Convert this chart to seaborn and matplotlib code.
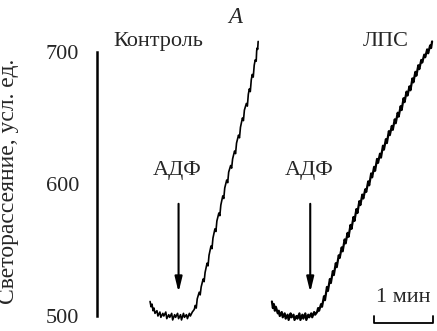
import numpy as np
import matplotlib
matplotlib.use('Agg')
import matplotlib.pyplot as plt
import pandas as pd
import seaborn as sns

# time in seconds, light scattering in arbitrary units
ctrl_t = [54, 55, 56, 57, 58, 59, 61, 62, 64, 65, 67, 68, 70, 71, 73, 74, 76, 77, 79, 80,
          82, 83, 85, 86, 88, 89, 91, 92, 94, 95, 97,
          99, 100, 101, 102, 104, 105, 106, 108, 109, 110, 112, 113, 114, 116, 117, 118, 120, 121,
          122, 124, 125, 126, 128, 129, 130, 132, 133, 134, 136, 137, 138, 140, 141, 142, 144, 145,
          146, 148, 149, 150, 152, 153, 154, 155, 156, 157, 158, 159, 160, 161, 162, 162.5, 163,
          163.5, 164]
ctrl_v = [511, 507, 509, 504, 506, 502, 504, 500, 503, 499, 502, 500, 503, 498, 501, 499, 502, 497, 501, 499,
          502, 498, 501, 497, 502, 499, 501, 498, 502, 500, 503,
          505, 508, 506, 513, 518, 516, 522, 528, 526, 533, 540, 538, 546, 553, 551, 559, 566, 564,
          572, 578, 576, 584, 591, 589, 597, 603, 601, 609, 614, 612, 619, 625, 623, 631, 637, 635,
          643, 650, 648, 656, 661, 659, 668, 672, 670, 679, 683, 681, 690, 694, 693, 701, 703,
          702, 708]

lps_t = [178, 179, 180, 181, 182, 184, 185, 186, 188, 189, 191, 192, 194, 195, 197, 198, 200, 201,
         203, 204, 206, 207, 209, 210, 212, 213, 215, 216, 218, 219, 221, 222,
         224, 225, 226, 228, 229, 231, 232, 234, 235, 237, 238, 240, 241, 243, 244, 246, 247, 249,
         250, 252, 253, 255, 256, 258, 259, 261, 262, 264, 265, 267, 268, 270, 271, 273, 274, 276,
         277, 279, 280, 282, 283, 285, 286, 288, 289, 291, 292, 294, 295, 297, 298, 300, 301, 303,
         304, 306, 307, 309, 310, 312, 313, 315, 316, 318, 319, 321, 322, 324, 325, 327, 328, 330,
         331, 333, 334, 336, 337, 339, 340, 341]
lps_v = [511, 506, 509, 504, 507, 502, 504, 500, 503, 499, 502, 498, 501, 497, 502, 499, 501, 497,
         500, 498, 502, 497, 501, 498, 502, 497, 501, 499, 502, 499, 503, 501,
         503, 506, 504, 509, 507, 515, 512, 522, 519, 528, 525, 534, 531, 540, 537, 546, 544, 552,
         549, 558, 555, 563, 560, 569, 566, 575, 572, 581, 578, 587, 584, 592, 589, 596, 594, 602,
         599, 608, 605, 613, 610, 619, 616, 623, 620, 629, 626, 634, 631, 640, 637, 644, 641, 649,
         646, 654, 651, 659, 656, 665, 662, 670, 667, 674, 671, 680, 677, 685, 682, 690, 687, 694,
         692, 698, 696, 702, 699, 705, 703, 708]

adp_t = [83, 217]          # moments of ADP addition
yticks = [500, 600, 700]
scale_start, scale_len = 282, 60

sns.set_style('white')
plt.rcParams['font.family'] = ['Liberation Serif', 'DejaVu Serif']

fig = plt.figure(figsize=(4.37, 3.31), dpi=100)
ax = fig.add_axes([97 / 437, 15 / 331, 340 / 437, 264 / 331])

df_c = pd.DataFrame({'t': ctrl_t, 'v': ctrl_v})
df_l = pd.DataFrame({'t': lps_t, 'v': lps_v})
for d, lw in [(df_c, 1.2), (df_l, 1.6)]:
    sns.lineplot(data=d, x='t', y='v', sort=False, estimator=None, color='black',
                 lw=lw, ax=ax, clip_on=False)

ax.set_xlim(0, 346)
ax.set_ylim(500, 700)
ax.set_yticks(yticks)
ax.set_xticks([])
ax.set_xlabel('')
ax.set_ylabel('Светорассеяние, усл. ед.', fontsize=17)
ax.yaxis.set_label_coords(-0.228, 0.511)
ax.tick_params(axis='y', direction='in', length=7, width=1.6, pad=13, labelsize=16)
for s in ['top', 'right', 'bottom']:
    ax.spines[s].set_visible(False)
ax.spines['left'].set_linewidth(1.8)
ax.spines['left'].set_color('black')

for t in adp_t:
    ax.annotate('', xy=(t, 518), xytext=(t, 585),
                arrowprops=dict(arrowstyle='-|>,head_length=0.9,head_width=0.22',
                                lw=1.5, color='black', shrinkA=0, shrinkB=0))
    ax.text(t - 1, 610, 'АДФ', ha='center', va='center', fontsize=16)

ax.text(62, 708, 'Контроль', ha='center', va='center', fontsize=16, clip_on=False)
ax.text(294, 708, 'ЛПС', ha='center', va='center', fontsize=16, clip_on=False)
ax.text(141, 726, 'A', ha='center', va='center', fontsize=16.5, style='italic', clip_on=False)

# scale bar
ax.plot([scale_start, scale_start, scale_start + scale_len, scale_start + scale_len],
        [500, 494.7, 494.7, 500], color='black', lw=1.3, clip_on=False)
ax.text(scale_start + scale_len / 2, 514, '1 мин', ha='center', va='center', fontsize=16)

fig.savefig('out.png', dpi=100)
